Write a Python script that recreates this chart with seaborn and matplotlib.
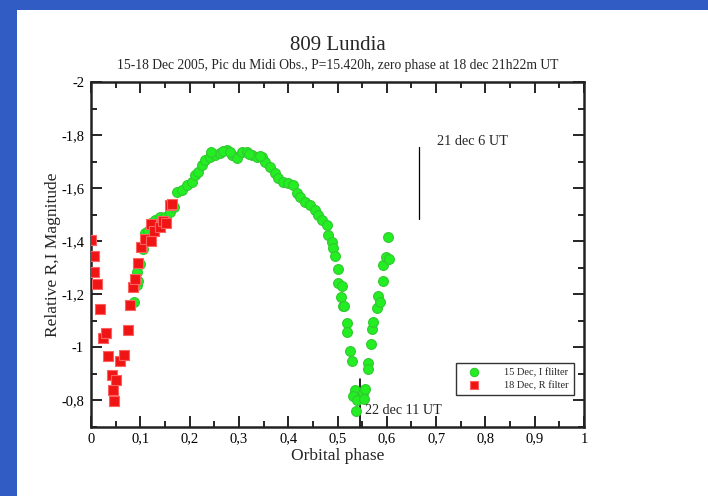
import matplotlib
matplotlib.use("Agg")
import matplotlib.pyplot as plt
import matplotlib.patches as mpatches
from matplotlib.ticker import MultipleLocator, FuncFormatter
import seaborn as sns
import pandas as pd

# 15 Dec, I filter (green circles)
green_phase = [0.087, 0.093, 0.095, 0.094, 0.100, 0.106, 0.110, 0.116, 0.122, 0.130,
               0.140, 0.150, 0.160, 0.168, 0.174, 0.185, 0.195, 0.205, 0.211, 0.217,
               0.225, 0.231, 0.241, 0.252, 0.262, 0.276, 0.286, 0.296, 0.306, 0.316,
               0.326, 0.336, 0.347, 0.353, 0.363, 0.373, 0.379, 0.390, 0.400, 0.410,
               0.418, 0.424, 0.434, 0.444, 0.454, 0.460, 0.468, 0.478, 0.481, 0.489,
               0.491, 0.495, 0.501, 0.501, 0.509, 0.507, 0.511, 0.513, 0.519, 0.519,
               0.525, 0.529, 0.535, 0.532, 0.539, 0.537, 0.551, 0.556, 0.554, 0.562,
               0.562, 0.568, 0.570, 0.572, 0.580, 0.582, 0.586, 0.592, 0.592, 0.598,
               0.605, 0.602, 0.244, 0.268, 0.282, 0.321, 0.342]
green_mag = [-1.170, -1.235, -1.250, -1.285, -1.315, -1.370, -1.430, -1.440, -1.470, -1.480,
             -1.490, -1.490, -1.510, -1.530, -1.585, -1.593, -1.612, -1.623, -1.650, -1.660,
             -1.687, -1.706, -1.718, -1.725, -1.732, -1.744, -1.725, -1.714, -1.737, -1.737,
             -1.725, -1.718, -1.718, -1.700, -1.680, -1.657, -1.638, -1.623, -1.619, -1.612,
             -1.582, -1.567, -1.548, -1.537, -1.518, -1.500, -1.480, -1.461, -1.424, -1.397,
             -1.375, -1.344, -1.295, -1.243, -1.231, -1.190, -1.156, -1.156, -1.092, -1.058,
             -0.986, -0.949, -0.840, -0.817, -0.802, -0.760, -0.830, -0.843, -0.806, -0.941,
             -0.920, -1.013, -1.070, -1.096, -1.148, -1.194, -1.171, -1.310, -1.250, -1.340,
             -1.333, -1.416, -1.735, -1.740, -1.738, -1.730, -1.722]

# 18 Dec, R filter (red squares)
red_phase = [0.000, 0.006, 0.006, 0.012, 0.018, 0.024, 0.030, 0.034, 0.043, 0.045,
             0.051, 0.047, 0.059, 0.067, 0.075, 0.079, 0.085, 0.089, 0.095, 0.101,
             0.110, 0.122, 0.122, 0.128, 0.140, 0.146, 0.152, 0.160, 0.165]
red_mag = [-1.405, -1.344, -1.284, -1.239, -1.145, -1.035, -1.054, -0.968, -0.896, -0.839,
           -0.877, -0.798, -0.949, -0.971, -1.066, -1.160, -1.226, -1.258, -1.318, -1.378,
           -1.410, -1.400, -1.465, -1.440, -1.455, -1.476, -1.470, -1.537, -1.540]

x_ticks = [0, 0.1, 0.2, 0.3, 0.4, 0.5, 0.6, 0.7, 0.8, 0.9, 1.0]
y_ticks = [-2, -1.8, -1.6, -1.4, -1.2, -1.0, -0.8]

title = "809 Lundia"
subtitle = "15-18 Dec 2005, Pic du Midi Obs., P=15.420h, zero phase at 18 dec 21h22m UT"
legend_labels = ["15 Dec, I flilter", "18 Dec, R filter"]

sns.set_theme(style="white")
plt.rcParams['font.family'] = ['Liberation Serif', 'DejaVu Serif']

fig = plt.figure(figsize=(7.08, 4.96), dpi=100)
fig.patch.set_facecolor('white')
# blue frame strips
fig.patches.append(mpatches.Rectangle((0, 0), 17/708, 1, transform=fig.transFigure,
                                      facecolor='#305cc4', edgecolor='none', zorder=0))
fig.patches.append(mpatches.Rectangle((0, 1 - 10/496), 1, 10/496, transform=fig.transFigure,
                                      facecolor='#305cc4', edgecolor='none', zorder=0))

ax = fig.add_axes([91/708, 1 - 427/496, (584 - 91)/708, (427 - 82)/496])

df_g = pd.DataFrame({"phase": green_phase, "mag": green_mag})
df_r = pd.DataFrame({"phase": red_phase, "mag": red_mag})

sns.scatterplot(data=df_g, x="phase", y="mag", ax=ax, marker='o', s=50,
                color='#22ee22', edgecolor='#33c833', linewidth=0.8,
                label=legend_labels[0], zorder=3)
sns.scatterplot(data=df_r, x="phase", y="mag", ax=ax, marker='s', s=45,
                color='#f01515', edgecolor='#ff6060', linewidth=0.8,
                label=legend_labels[1], zorder=4)

ax.set_xlim(0, 1)
ax.set_ylim(-0.7, -2)
ax.set_xticks(x_ticks)
ax.set_yticks(y_ticks)
ax.xaxis.set_minor_locator(MultipleLocator(0.05))
ax.yaxis.set_minor_locator(MultipleLocator(0.1))

def fmt(v, pos):
    s = ("%.1f" % v).rstrip('0').rstrip('.') if abs(v - round(v)) > 1e-9 else "%d" % round(v)
    return s.replace('.', ',')

ax.xaxis.set_major_formatter(FuncFormatter(fmt))
ax.yaxis.set_major_formatter(FuncFormatter(fmt))
ax.tick_params(which='both', direction='in', top=True, right=True, bottom=True, left=True,
               labelsize=10.5, colors='black', labelcolor='black')
ax.tick_params(which='major', length=8, width=1.2)
ax.tick_params(which='minor', length=4, width=1.2)
for sp in ax.spines.values():
    sp.set_linewidth(1.8)
    sp.set_color('#222222')
ax.tick_params(axis='x', pad=4)
ax.tick_params(axis='y', pad=5)

ax.set_xlabel("Orbital phase", fontsize=12.5, labelpad=2)
ax.set_ylabel("Relative R,I Magnitude", fontsize=12.5, labelpad=0)

# annotations
ax.plot([0.665, 0.665], [-1.755, -1.484], color='black', linewidth=0.9)
ax.text(0.702, -1.775, "21 dec 6 UT", fontsize=10.3, ha='left', va='center')
ax.plot([0.546, 0.546], [-0.88, -0.70], color='black', linewidth=1.2)
ax.text(0.556, -0.762, "22 dec 11 UT", fontsize=10.2, ha='left', va='center')

fig.text(337.5/708, 1 - 46/496, title, ha='center', va='center', fontsize=15)
fig.text(338/708, 1 - 65/496, subtitle, ha='center', va='center', fontsize=9.8)

leg = ax.legend(loc='lower right', bbox_to_anchor=(0.979, 0.093), fontsize=7.5,
                frameon=True, fancybox=False, edgecolor='black', borderpad=0.45,
                borderaxespad=0, handletextpad=1.6, handlelength=2.6,
                markerscale=0.85, labelspacing=0.35)
leg.get_frame().set_linewidth(1.0)

fig.savefig("out.png", dpi=100, facecolor='white')
